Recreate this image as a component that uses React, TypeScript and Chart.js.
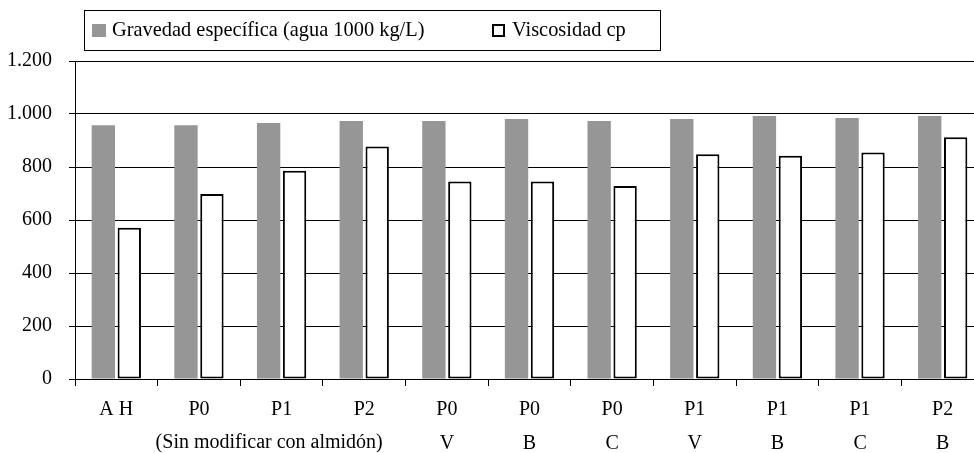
import React, { useEffect, useRef } from "react";
import { Chart, registerables } from "chart.js";

Chart.register(...registerables);

// Sample codes (first line) and starch type (second line)
const sampleCodes = ["A H", "P0", "P1", "P2", "P0", "P0", "P0", "P1", "P1", "P1", "P2"];
const starchTypes = ["", "", "", "", "V", "B", "C", "V", "B", "C", "B"];
const unmodifiedNote = "(Sin modificar con almidón)";

const gravedadEspecifica = [958, 958, 966, 974, 974, 981, 974, 981, 992, 985, 992];
const viscosidadCp = [571, 698, 786, 877, 745, 745, 728, 848, 842, 855, 912];

const yTickLabels = ["0", "200", "400", "600", "800", "1.000", "1.200"];

const seriesLabels = ["Gravedad específica (agua 1000 kg/L)", "Viscosidad cp"];

const FONT = "'Liberation Serif', 'Times New Roman', serif";

// Boxed legend drawn above the plot, plus the shared note under the first categories
const boxedLegend = {
  id: "boxedLegend",
  afterDraw(chart: any) {
    const ctx = chart.ctx;
    ctx.save();
    ctx.strokeStyle = "#000";
    ctx.lineWidth = 1;
    ctx.strokeRect(84.5, 10.5, 576, 40);
    ctx.font = `20.4px ${FONT}`;
    ctx.textBaseline = "middle";
    ctx.textAlign = "left";
    const itemX = [92, 492];
    chart.data.datasets.forEach((ds: any, i: number) => {
      const x = itemX[i];
      if (ds.borderWidth) {
        ctx.fillStyle = ds.backgroundColor;
        ctx.fillRect(x, 24, 13, 13);
        ctx.lineWidth = 2;
        ctx.strokeStyle = ds.borderColor;
        ctx.strokeRect(x + 1, 25, 11, 11);
      } else {
        ctx.fillStyle = ds.backgroundColor;
        ctx.fillRect(x, 24, 14, 13);
      }
      ctx.fillStyle = "#000";
      ctx.fillText(ds.label, x + 20, 30.5);
    });

    // note spanning the unmodified samples
    const xs = chart.scales.x;
    const p1 = xs.getPixelForValue(1);
    const p2 = xs.getPixelForValue(2);
    ctx.font = `20px ${FONT}`;
    ctx.textAlign = "center";
    ctx.fillText(unmodifiedNote, p1 + 0.85 * (p2 - p1), 443);
    ctx.restore();
  },
};

function BarChart() {
  const canvasRef = useRef<HTMLCanvasElement | null>(null);

  useEffect(() => {
    if (!canvasRef.current) return;
    const labels = sampleCodes.map((c, i) => (starchTypes[i] ? [c, starchTypes[i]] : c));
    const chart = new Chart(canvasRef.current, {
      type: "bar",
      data: {
        labels,
        datasets: [
          {
            label: seriesLabels[0],
            data: gravedadEspecifica,
            backgroundColor: "#969696",
            borderWidth: 0,
            categoryPercentage: 0.628,
            barPercentage: 0.9,
          },
          {
            label: seriesLabels[1],
            data: viscosidadCp,
            backgroundColor: "#ffffff",
            borderColor: "#000000",
            borderWidth: 2,
            borderSkipped: false,
            categoryPercentage: 0.628,
            barPercentage: 0.9,
          },
        ],
      },
      options: {
        responsive: false,
        maintainAspectRatio: false,
        animation: false,
        layout: { padding: { top: 61, right: 16, left: 0, bottom: 0 } },
        plugins: {
          legend: { display: false },
          tooltip: { enabled: false },
        },
        scales: {
          x: {
            grid: {
              offset: true,
              drawOnChartArea: false,
              drawTicks: true,
              tickLength: 7,
              color: "#000",
            },
            border: { display: true, color: "#000", width: 1 },
            ticks: {
              color: "#000",
              padding: 7,
              maxRotation: 0,
              autoSkip: false,
              font: { family: FONT, size: 20, lineHeight: 1.7 },
            },
            afterFit(scale: any) {
              scale.height = 74;
            },
          },
          y: {
            min: 0,
            max: 1200,
            ticks: {
              stepSize: 200,
              color: "#000",
              padding: 17,
              font: { family: FONT, size: 20 },
              callback: (_v: any, index: number) => yTickLabels[index],
            },
            grid: {
              color: "#000",
              lineWidth: 1,
              drawTicks: true,
              tickLength: 6,
            },
            border: { display: true, color: "#000", width: 1 },
            afterFit(scale: any) {
              scale.width = 75;
            },
          },
        },
      },
      plugins: [boxedLegend],
    });
    return () => chart.destroy();
  }, []);

  return (
    <canvas
      ref={canvasRef}
      width={1000}
      height={453}
      style={{ display: "block", width: 1000, height: 453 }}
    />
  );
}

export default function App() {
  return (
    <div
      style={{
        position: "fixed",
        left: 0,
        top: 0,
        width: 974,
        height: 453,
        overflow: "hidden",
        background: "#fff",
      }}
    >
      <BarChart />
    </div>
  );
}
